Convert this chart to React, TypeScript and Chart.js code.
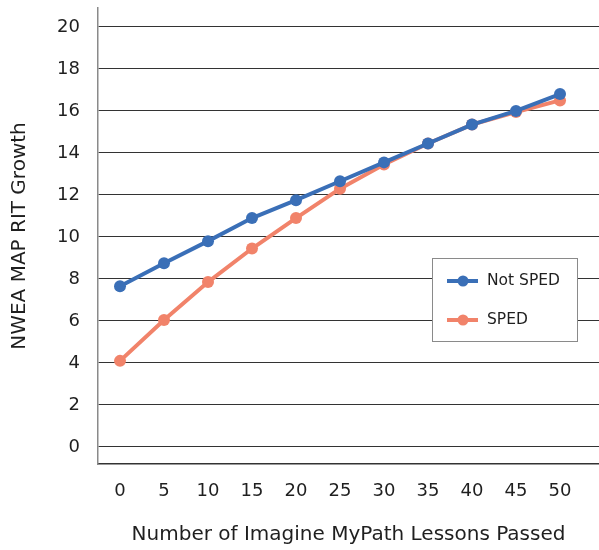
import React, { useEffect, useRef } from "react";
import { Chart, registerables } from "chart.js";

Chart.register(...registerables);

const lessons = [0, 5, 10, 15, 20, 25, 30, 35, 40, 45, 50];
const notSped = [7.65, 8.75, 9.8, 10.9, 11.75, 12.65, 13.55, 14.45, 15.35, 16.0, 16.8];
const sped = [4.1, 6.05, 7.85, 9.45, 10.9, 12.3, 13.45, 14.45, 15.35, 15.95, 16.5];
const yTicks = [0, 2, 4, 6, 8, 10, 12, 14, 16, 18, 20];
const seriesLabels = ["Not SPED", "SPED"];
const xTitle = "Number of Imagine MyPath Lessons Passed";
const yTitle = "NWEA MAP RIT Growth";

const BLUE = "#3a6fb7";
const ORANGE = "#f1836a";
const FONT = "'DejaVu Sans', sans-serif";
const TEXT = "#1f1f1f";

const legendBox = {
  id: "legendBox",
  afterDraw(chart: any) {
    const { ctx, chartArea } = chart;
    const x0 = chartArea.left + 334;
    const y0 = chartArea.top + 250;
    const w = 145;
    const h = 83;
    ctx.save();
    ctx.fillStyle = "#ffffff";
    ctx.fillRect(x0, y0, w, h);
    ctx.strokeStyle = "#8a8a8a";
    ctx.lineWidth = 1;
    ctx.strokeRect(x0 + 0.5, y0 + 0.5, w, h);
    chart.data.datasets.forEach((ds: any, i: number) => {
      const cy = y0 + 23 + i * 39;
      ctx.strokeStyle = ds.borderColor;
      ctx.lineWidth = 4;
      ctx.beginPath();
      ctx.moveTo(x0 + 15, cy);
      ctx.lineTo(x0 + 46, cy);
      ctx.stroke();
      ctx.fillStyle = ds.borderColor;
      ctx.beginPath();
      ctx.arc(x0 + 31, cy, 5.5, 0, Math.PI * 2);
      ctx.fill();
      ctx.fillStyle = TEXT;
      ctx.font = `15.5px ${FONT}`;
      ctx.textAlign = "left";
      ctx.textBaseline = "middle";
      ctx.fillText(ds.label, x0 + 55, cy);
    });
    ctx.restore();
  },
};

export default function App() {
  const ref = useRef<HTMLCanvasElement>(null);
  useEffect(() => {
    if (!ref.current) return;
    const chart = new Chart(ref.current, {
      type: "line",
      data: {
        datasets: [
          {
            label: seriesLabels[0],
            data: lessons.map((x, i) => ({ x, y: notSped[i] })),
            borderColor: BLUE,
            backgroundColor: BLUE,
            borderWidth: 4,
            pointRadius: 6,
            pointBackgroundColor: BLUE,
            pointBorderWidth: 0,
          },
          {
            label: seriesLabels[1],
            data: lessons.map((x, i) => ({ x, y: sped[i] })),
            borderColor: ORANGE,
            backgroundColor: ORANGE,
            borderWidth: 4,
            pointRadius: 6,
            pointBackgroundColor: ORANGE,
            pointBorderWidth: 0,
          },
        ],
      },
      options: {
        responsive: false,
        animation: false,
        layout: { autoPadding: false, padding: { top: 8, right: 0, left: 0, bottom: 0 } },
        plugins: { legend: { display: false }, tooltip: { enabled: false } },
        scales: {
          x: {
            type: "linear",
            min: -2.5,
            max: 54.43,
            afterBuildTicks: (s: any) => {
              s.ticks = lessons.map((v) => ({ value: v }));
            },
            afterFit: (s: any) => {
              s.height = 86;
              s.paddingLeft = 0;
              s.paddingRight = 0;
            },
            grid: { display: false, drawTicks: false },
            border: { display: true, color: "#333333", width: 1.5 },
            ticks: {
              padding: 17,
              color: TEXT,
              font: { family: FONT, size: 18 },
              maxRotation: 0,
              autoSkip: false,
            },
            title: {
              display: true,
              text: xTitle,
              color: TEXT,
              font: { family: FONT, size: 20 },
              padding: { top: 0, bottom: 3 },
            },
          },
          y: {
            type: "linear",
            min: -0.81,
            max: 20.9,
            afterBuildTicks: (s: any) => {
              s.ticks = yTicks.map((v) => ({ value: v }));
            },
            afterFit: (s: any) => {
              s.width = 98;
              s.paddingTop = 0;
              s.paddingBottom = 0;
            },
            grid: { color: "#333333", lineWidth: 1, drawTicks: false },
            border: { display: true, color: "#8a8a8a", width: 1.5 },
            ticks: {
              padding: 18,
              color: TEXT,
              font: { family: FONT, size: 18 },
            },
            title: {
              display: true,
              text: yTitle,
              color: TEXT,
              font: { family: FONT, size: 20 },
              padding: { top: 8, bottom: 0 },
            },
          },
        },
      },
      plugins: [legendBox],
    });
    return () => chart.destroy();
  }, []);
  return (
    <div style={{ position: "absolute", left: 0, top: 0, width: 599, height: 550 }}>
      <canvas ref={ref} width={599} height={550} style={{ display: "block" }} />
    </div>
  );
}
